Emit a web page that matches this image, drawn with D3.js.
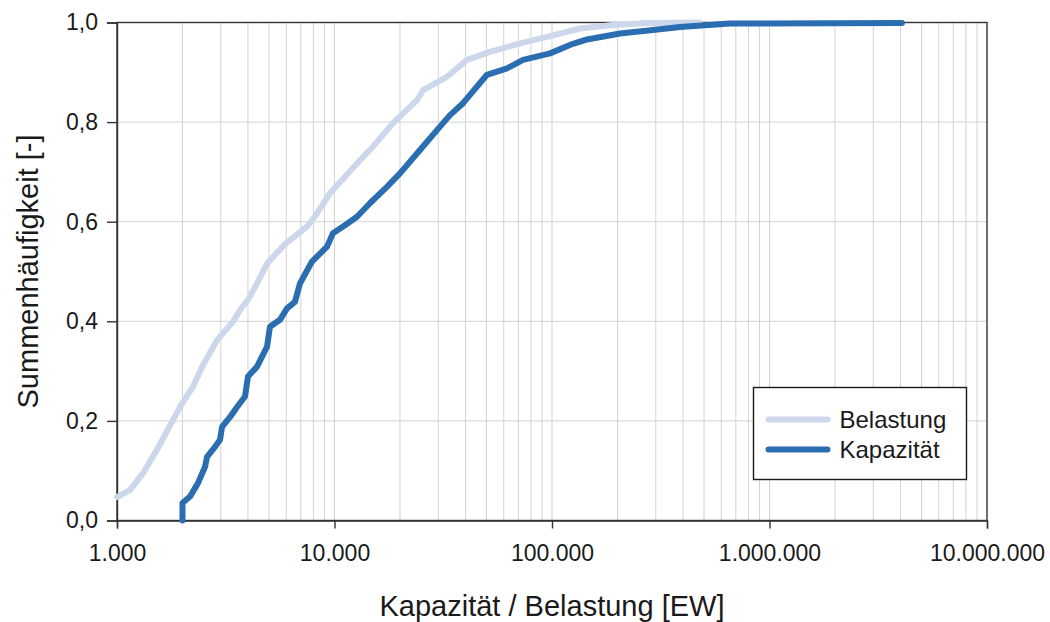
<!DOCTYPE html>
<html>
<head>
<meta charset="utf-8">
<script src="https://cdn.jsdelivr.net/npm/d3@7"></script>
<style>
	body { margin: 0; background: #fff; }
	svg { display: block; font-family: 'Liberation Sans', Arial, sans-serif; }
	.grid line { stroke: #d3d3d3; stroke-width: 1; }
</style>
</head>
<body>
<script>
// Summenhäufigkeit (ECDF)
const belastungEW = [1000, 1148, 1317, 1527, 1790, 1949, 2236, 2486, 2884, 3414, 3680, 4000, 4405, 4897, 5919, 7474, 8318, 9535, 12690, 15040, 18580, 23940, 25530, 32890, 40640, 51860, 71290, 94840, 134500, 190600, 273400, 478600]
const belastungP = [0.047, 0.061, 0.095, 0.142, 0.198, 0.228, 0.269, 0.312, 0.362, 0.399, 0.423, 0.443, 0.476, 0.516, 0.555, 0.590, 0.617, 0.657, 0.717, 0.751, 0.798, 0.844, 0.864, 0.891, 0.925, 0.941, 0.958, 0.971, 0.988, 0.995, 0.999, 1.0]
const kapazitaetEW = [2000, 2000, 2166, 2357, 2540, 2594, 2823, 2976, 3041, 3311, 3564, 3878, 4000, 4405, 4897, 5050, 5613, 6050, 6577, 6937, 7880, 9245, 9840, 11170, 12690, 14550, 17420, 20000, 24720, 30550, 33960, 38990, 50230, 62090, 73590, 97930, 121000, 144900, 205500, 291100, 388100, 657700, 4064000]
const kapazitaetP = [0, 0.035, 0.048, 0.075, 0.108, 0.128, 0.148, 0.162, 0.188, 0.208, 0.228, 0.249, 0.289, 0.309, 0.349, 0.389, 0.403, 0.426, 0.439, 0.476, 0.520, 0.550, 0.577, 0.593, 0.610, 0.637, 0.670, 0.697, 0.744, 0.791, 0.814, 0.838, 0.895, 0.908, 0.925, 0.938, 0.955, 0.966, 0.978, 0.985, 0.991, 0.998, 0.999]
const xTicks = [1e3, 1e4, 1e5, 1e6, 1e7]
const yTicks = [0, 0.2, 0.4, 0.6, 0.8, 1.0]
const seriesName = ['Belastung', 'Kapazität']
const seriesColor = ['#cdd7ec', '#2a6db0']

const de = d3.formatLocale({ decimal: ',', thousands: '.', grouping: [3], currency: ['', ' €'] })
const width = 1050, height = 622
const margin = { left: 117, right: 63, top: 22.5, bottom: 101.5 }
const ink = '#1a1a1a'

const svg = d3.select('body').append('svg').attr('width', width).attr('height', height)
const x = d3.scaleLog().domain([1e3, 1e7]).range([margin.left, width - margin.right])
const y = d3.scaleLinear().domain([0, 1]).range([height - margin.bottom, margin.top])

// minor + major vertical grid (2..9 per decade)
const minor = d3.range(3, 7).flatMap(e => d3.range(1, 10).map(k => k * 10 ** e)).filter(v => v > 1e3)
svg.append('g').classed('grid', true).selectAll('line').data(minor).join('line')
	.attr('x1', d => x(d)).attr('x2', d => x(d))
	.attr('y1', y(0)).attr('y2', y(1))
svg.append('g').classed('grid', true).selectAll('line').data(yTicks.slice(1, -1)).join('line')
	.attr('x1', x(1e3)).attr('x2', x(1e7))
	.attr('y1', d => y(d)).attr('y2', d => y(d))

// frame
svg.append('rect')
	.attr('x', x(1e3)).attr('y', y(1))
	.attr('width', x(1e7) - x(1e3)).attr('height', y(0) - y(1))
	.attr('fill', 'none').attr('stroke', '#333').attr('stroke-width', 1.4)

const xAxis = svg.append('g')
	.attr('transform', `translate(0, ${y(0)})`)
	.call(d3.axisBottom(x).tickValues(xTicks).tickFormat(de.format(',')).tickSize(8).tickPadding(16))
const yAxis = svg.append('g')
	.attr('transform', `translate(${x(1e3)}, 0)`)
	.call(d3.axisLeft(y).tickValues(yTicks).tickFormat(de.format('.1f')).tickSize(10).tickPadding(9))
for (const a of [xAxis, yAxis]) {
	a.attr('font-size', null).attr('font-family', null)
	a.select('.domain').attr('stroke', '#333').attr('stroke-width', 1.4)
	a.selectAll('.tick line').attr('stroke', '#333').attr('stroke-width', 1.4)
	a.selectAll('.tick text').style('font-size', '23px').attr('fill', ink)
}

svg.append('text')
	.attr('x', (x(1e3) + x(1e7)) / 2).attr('y', 616)
	.attr('text-anchor', 'middle').style('font-size', '29px').attr('fill', ink)
	.text('Kapazität / Belastung [EW]')
svg.append('text')
	.attr('transform', `translate(38, ${(y(0) + y(1)) / 2}) rotate(-90)`)
	.attr('text-anchor', 'middle').style('font-size', '29px').attr('fill', ink)
	.text('Summenhäufigkeit [-]')

const series = [
	d3.zip(belastungEW, belastungP),
	d3.zip(kapazitaetEW, kapazitaetP),
]
const line = d3.line().x(d => x(d[0])).y(d => y(d[1]))
svg.append('g').selectAll('path').data(series).join('path')
	.attr('d', line)
	.attr('fill', 'none')
	.attr('stroke', (_, i) => seriesColor[i])
	.attr('stroke-width', 6)
	.attr('stroke-linejoin', 'round')
	.attr('stroke-linecap', 'round')

// legend
const legend = svg.append('g').attr('transform', 'translate(753.5, 387.5)')
legend.append('rect')
	.attr('width', 213).attr('height', 92)
	.attr('fill', '#fff').attr('stroke', ink).attr('stroke-width', 1.4)
const item = legend.selectAll('g.item').data(seriesName).join('g').classed('item', true)
	.attr('transform', (_, i) => `translate(0, ${32 + i * 30})`)
item.append('line')
	.attr('x1', 15).attr('x2', 74)
	.attr('stroke', (_, i) => seriesColor[i])
	.attr('stroke-width', 6).attr('stroke-linecap', 'round')
item.append('text')
	.attr('x', 86).attr('dy', '0.35em')
	.style('font-size', '24px').attr('fill', ink)
	.text(d => d)
</script>
</body>
</html>
